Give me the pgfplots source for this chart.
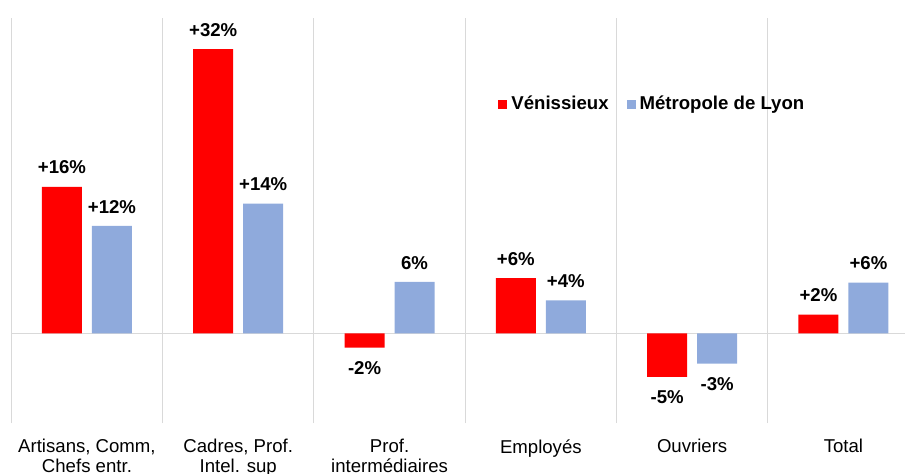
\documentclass[border=0pt]{standalone}
\usepackage{pgfplots}
\pgfplotsset{compat=1.18}
\usepackage{fontspec}
\setmainfont{Liberation Sans}
\definecolor{vred}{RGB}{255,0,0}
\definecolor{lblue}{RGB}{143,170,220}
\definecolor{gridgray}{RGB}{217,217,217}
\begin{document}
\begin{tikzpicture}
\begin{axis}[
  at={(0,0)}, anchor=south west,
  scale only axis,
  width=453.9pt, height=202.5pt,
  xmin=-0.5, xmax=5.5,
  ymin=-10.1, ymax=35.5,
  axis line style={draw=none},
  ybar=5pt, bar width=20pt,
  xtick={0,1,2,3,4,5},
  xtick pos=bottom,
  xticklabels={{Artisans, Comm,\\Chefs entr.},{Cadres, Prof.\\Intel. sup},{Prof.\\intermédiaires},{Employés},{Ouvriers},{Total}},
  xticklabel style={align=center, inner ysep=0pt, yshift=-8pt,
    font=\fontsize{9.3}{10}\selectfont},
  ytick=\empty,
  major tick length=0pt,
  nodes near coords,
  point meta=explicit symbolic,
  visualization depends on={rawy \as \rawy},
  every node near coord/.append style={font=\bfseries\fontsize{9.3}{10}\selectfont, inner xsep=0pt, inner ysep=5.5pt, black},
  every node near coord/.append code={%
    \pgfmathparse{\rawy<0}%
    \ifdim\pgfmathresult pt>0.5pt \pgfkeysalso{anchor=north, yshift=-1.2pt}\else\pgfkeysalso{anchor=south, yshift=0.6pt}\fi},
  legend style={at={(axis cs:2.717,25.8)}, anchor=west, draw=none, fill=none,
    inner sep=0pt, legend columns=2,
    font=\bfseries\fontsize{9.3}{10}\selectfont,
    /tikz/every even column/.append style={column sep=7pt}},
  legend image code/.code={\path[#1] (0pt,-2.25pt) rectangle (4.5pt,2.25pt);},
  clip=false,
]
% separators and zero line
\foreach \xx in {-0.5,0.5,1.5,2.5,3.5,4.5,5.5} {
  \edef\tmp{\noexpand\draw[gridgray, line width=0.6pt] (axis cs:\xx,-10.1) -- (axis cs:\xx,35.5);}
  \tmp
}
\draw[gridgray, line width=0.6pt] (axis cs:-0.5,0) -- (axis cs:5.5,0);
\addplot[fill=vred, draw=none] coordinates {
  (0,16.5) [+16\%]
  (1,32.0) [+32\%]
  (2,-1.6) [-2\%]
  (3,6.2) [+6\%]
  (4,-4.9) [-5\%]
  (5,2.1) [+2\%]
};
\addplot[fill=lblue, draw=none] coordinates {
  (0,12.1) [+12\%]
  (1,14.6) [+14\%]
  (2,5.8) [6\%]
  (3,3.7) [+4\%]
  (4,-3.4) [-3\%]
  (5,5.7) [+6\%]
};
\legend{Vénissieux, Métropole de Lyon}
\end{axis}
\pgfresetboundingbox
\path[use as bounding box] (-5.65pt,-25pt) rectangle (446.85pt,211.5pt);
\end{tikzpicture}
\end{document}
